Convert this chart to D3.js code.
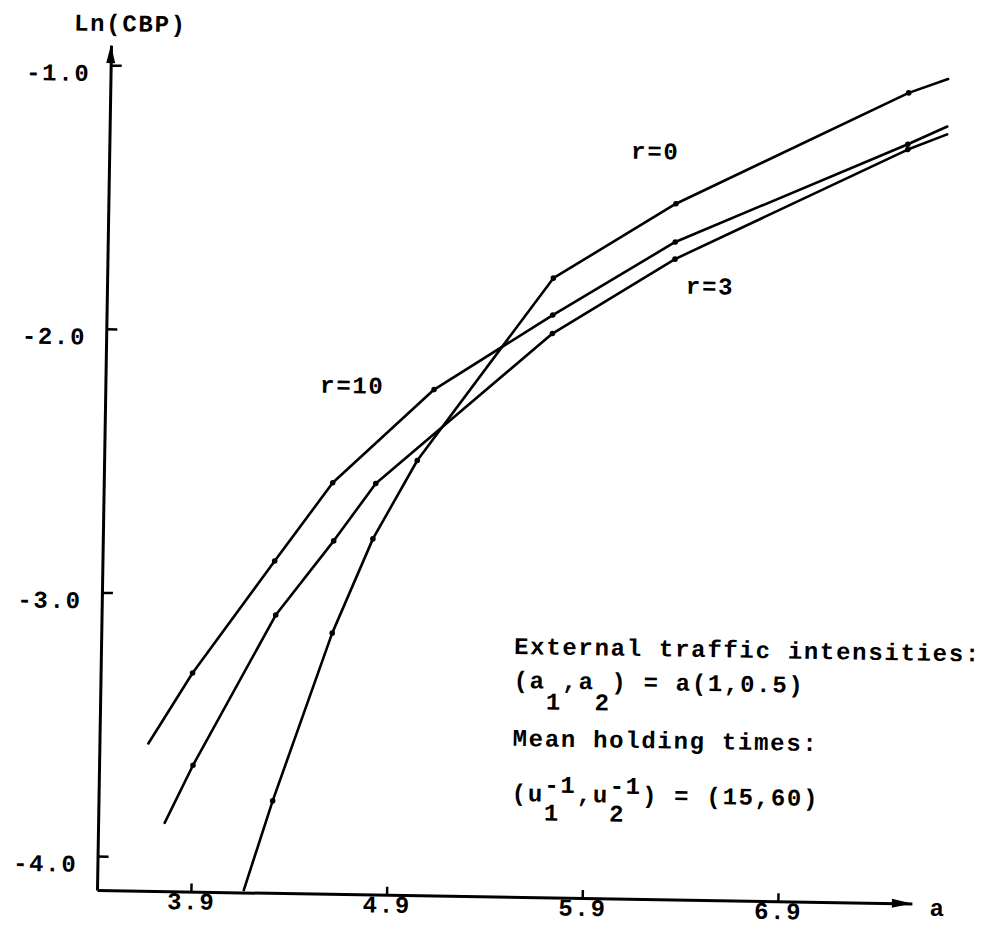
<!DOCTYPE html>
<html><head><meta charset="utf-8">
<script src="https://cdn.jsdelivr.net/npm/d3@7"></script>
<style>
body{margin:0;background:#fff}
svg text{font-family:"Liberation Mono",monospace;font-weight:bold;fill:#000;font-size:24px;letter-spacing:1.7px}
</style>
</head><body>
<svg id="chart" width="988" height="927"></svg>
<script>
// ---- data ----
const xTicks = [3.9, 4.9, 5.9, 6.9];
const xTickLabels = ["3.9", "4.9", "5.9", "6.9"];
const yTicks = [-1, -2, -3, -4];
const yTickLabels = ["-1.0", "-2.0", "-3.0", "-4.0"];
const seriesNames = ["r=0", "r=3", "r=10"];
// traffic intensity a (x) and Ln(CBP) (y) for each curve
const r0A  = [4.17, 4.31, 4.60, 4.80, 5.02, 5.70, 6.32, 7.50, 7.70];
const r0V  = [-4.12, -3.78, -3.14, -2.78, -2.48, -1.78, -1.49, -1.055, -1.00];
const r3A  = [3.76, 3.90, 4.31, 4.60, 4.81, 5.70, 6.32, 7.50, 7.70];
const r3V  = [-3.87, -3.65, -3.075, -2.79, -2.57, -1.99, -1.70, -1.27, -1.21];
const r10A = [3.67, 3.89, 4.30, 4.59, 5.10, 5.70, 6.32, 7.50, 7.70];
const r10V = [-3.57, -3.30, -2.87, -2.57, -2.21, -1.92, -1.635, -1.25, -1.18];
const xLabel = "a";
const yLabel = "Ln(CBP)";
const note1 = "External traffic intensities:";
const note3 = "Mean holding times:";

// ---- drawing ----
const svg = d3.select("#chart");
const ox = 97, oy = 890;
const g = svg.append("g").attr("transform", `rotate(0.95,${ox},${oy})`);

const x = d3.scaleLinear().domain([3.42, 7.585]).range([ox, 912]);
const y = d3.scaleLinear().domain([-4.129, -0.924]).range([oy, 45]);

// axes
const xAxis = d3.axisBottom(x).tickValues(xTicks)
  .tickFormat((d, i) => xTickLabels[i]).tickSizeInner(-8).tickSizeOuter(0).tickPadding(2);
const gx = g.append("g").attr("transform", `translate(0,${oy})`).call(xAxis);
const yAxis = d3.axisLeft(y).tickValues(yTicks)
  .tickFormat((d, i) => yTickLabels[i]).tickSizeInner(-11).tickSizeOuter(0).tickPadding(20);
const gy = g.append("g").attr("transform", `translate(${ox},0)`).call(yAxis);

[gx, gy].forEach(a => {
  a.select(".domain").attr("stroke", "#000").attr("stroke-width", 3);
  a.selectAll(".tick line").attr("stroke", "#000").attr("stroke-width", 2.5);
  a.selectAll("text").attr("font-family", null).attr("font-size", null).attr("fill", "#000");
});
gx.selectAll(".tick text").attr("dy", "0.66em");
gy.selectAll(".tick text").attr("dy", "0.32em").attr("transform", "translate(0,8)");

// arrowheads
g.append("path").attr("d", `M${x.range()[1] - 20},${oy - 4.5}L${x.range()[1]},${oy}L${x.range()[1] - 20},${oy + 4.5}Z`).attr("fill", "#000");
g.append("path").attr("d", `M${ox - 4.5},${y.range()[1] + 18}L${ox},${y.range()[1]}L${ox + 4.5},${y.range()[1] + 18}Z`).attr("fill", "#000");

// axis titles
g.append("text").attr("x", ox + 841).attr("y", oy + 12).attr("text-anchor", "middle").text(xLabel);
g.append("text").attr("x", 116).attr("y", 31).attr("text-anchor", "middle").text(yLabel);

// curves
const series = [
  { name: seriesNames[0], a: r0A, v: r0V },
  { name: seriesNames[1], a: r3A, v: r3V },
  { name: seriesNames[2], a: r10A, v: r10V }
];
const line = d3.line().x(d => x(d[0])).y(d => y(d[1]));
series.forEach(s => {
  const pts = s.a.map((a, i) => [a, s.v[i]]);
  g.append("path").datum(pts).attr("d", line)
    .attr("fill", "none").attr("stroke", "#000").attr("stroke-width", 2.6)
    .attr("stroke-linejoin", "round").attr("stroke-linecap", "round");
  g.selectAll(null).data(pts.slice(1, -1)).enter().append("circle")
    .attr("cx", d => x(d[0])).attr("cy", d => y(d[1])).attr("r", 2.8).attr("fill", "#000");
});

// curve labels
const labelPos = [[643, 150], [700, 284], [344, 389]];
seriesNames.forEach((n, i) => {
  g.append("text").attr("x", labelPos[i][0]).attr("y", labelPos[i][1]).attr("text-anchor", "middle").text(n);
});

// note block (typewriter columns)
const cw = 16.3, nx = 510;
function pieces(baseY, list) {
  list.forEach(p => {
    g.append("text").attr("x", nx + p[0] * cw).attr("y", baseY + p[1]).text(p[2]);
  });
}
pieces(647, [[0, 0, note1]]);
pieces(681, [[0, 0, "(a"], [2, 21, "1"], [3, 0, ",a"], [5, 21, "2"], [6, 0, ") = a(1,0.5)"]]);
pieces(739, [[0, 0, note3]]);
pieces(794, [[0, 0, "(u"], [2, 19, "1"], [2, -9, "-1"], [4, 0, ",u"], [6, 19, "2"], [6, -9, "-1"], [8, 0, ") = (15,60)"]]);
</script>
</body></html>
